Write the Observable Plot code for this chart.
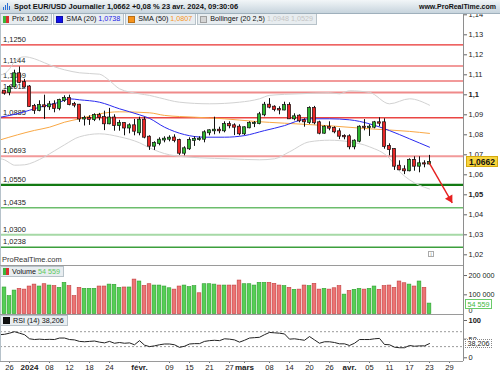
<!DOCTYPE html>
<html><head><meta charset="utf-8">
<script src="https://cdn.jsdelivr.net/npm/d3@7"></script>
<script src="https://cdn.jsdelivr.net/npm/@observablehq/plot@0.6"></script>
<style>
html,body{margin:0;padding:0;background:#fff;}
#wrap{position:relative;width:500px;height:375px;overflow:hidden;font-family:"Liberation Sans",Arial,sans-serif;color:#111;}
.a{position:absolute;}
#hdr{left:0;top:0;width:500px;height:14px;background:linear-gradient(#f2f6f8,#c7d4dd);border-bottom:1px solid #9fb0bc;box-sizing:border-box;}
#title{left:14px;top:2px;font-size:7.5px;font-weight:bold;white-space:nowrap;line-height:9px}
#site{right:4px;top:2px;font-size:7px;font-weight:bold;line-height:9px;white-space:nowrap}
#ico{left:3px;top:3px;width:7px;height:7px}
#ico i{position:absolute;bottom:0;width:1.2px;background:#2b6fd6}
.lgrow{position:absolute;left:0;display:flex;gap:1px}
.lg{height:11px;background:#e8edf0;border:1px solid #b7c2c9;border-top:none;box-sizing:border-box;font-size:7.2px;line-height:10px;white-space:nowrap;padding:0 3px 0 2px;display:flex;align-items:center}
.sw{display:inline-block;width:5px;height:5px;margin-right:3px;border:0.5px solid rgba(0,0,0,0.25)}
.sw2{display:inline-block;width:6px;height:7px;margin-right:3px;background:linear-gradient(90deg,#3bb53b 50%,#d93030 50%)}
.tag{position:absolute;white-space:nowrap;box-sizing:border-box;text-align:center}
.hl{position:absolute;left:0;width:463px;height:1px;background:#9a9a9a}
</style></head>
<body>
<div id="wrap">
  <div id="price" class="a" style="left:0;top:14px"></div>
  <div id="vol" class="a" style="left:0;top:265px"></div>
  <div id="rsi" class="a" style="left:0;top:314px"></div>
  <div class="a" style="left:0;top:13px;width:1px;height:348px;background:#b6c2ca"></div>
  <div class="a" style="left:463px;top:13px;width:1px;height:348px;background:#8e8e8e"></div>
  <div class="hl" style="top:265px"></div>
  <div class="hl" style="top:314px"></div>
  <div class="hl" style="top:361px"></div>
  <div id="hdr" class="a">
    <div id="ico" class="a"><i style="left:0;height:3px"></i><i style="left:2px;height:5px"></i><i style="left:4px;height:7px"></i><i style="left:6px;height:4px"></i></div>
    <div id="title" class="a">Spot EUR/USD Journalier 1,0662 +0,08 % 23 avr. 2024, 09:30:06</div>
    <div id="site" class="a">www.ProRealTime.com</div>
  </div>
  <div class="lgrow" style="top:14px">
    <div class="lg"><span class="sw2"></span>Prix 1,0662</div>
    <div class="lg"><span class="sw" style="background:#1010e8"></span>SMA (20)&nbsp;<span style="color:#1a1ae6">1,0738</span></div>
    <div class="lg"><span class="sw" style="background:#f7941d"></span>SMA (50)&nbsp;<span style="color:#f7941d">1,0807</span></div>
    <div class="lg"><span class="sw" style="background:#d4d4d4"></span>Bollinger (20 2,5)&nbsp;<span style="color:#c4c4c4">1,0948 1,0529</span></div>
  </div>
  <div class="a" style="left:2px;top:255px;font-size:7.5px;color:#333">ProRealTime.com</div>
  <div class="a" style="left:428px;top:251px;width:6px;height:6px;border:1px solid #aaa;box-sizing:border-box;font-size:5px;line-height:5px;text-align:center;color:#777">i</div>
  <div class="lgrow" style="top:266px">
    <div class="lg" style="height:11px;border-top:1px solid #b7c2c9"><span class="sw2"></span>Volume&nbsp;<span style="color:#5cc85c">54 559</span></div>
  </div>
  <div class="lgrow" style="top:315px">
    <div class="lg" style="height:11px;border-top:1px solid #b7c2c9"><span class="sw" style="background:#111"></span>RSI (14) 38,206</div>
  </div>
</div>
<script>
// ---------- DATA ----------
// daily candles, index 0 = 22 déc. 2023 ... 85 = 23 avr. 2024 (trading days)
const opens = [1.1018,1.1012,1.1040,1.1105,1.1061,1.1039,1.0942,1.0922,1.0945,1.0940,
 1.0950,1.0932,1.0972,1.0982,1.0951,1.0948,1.0879,1.0882,1.0876,1.0896,
 1.0886,1.0855,1.0884,1.0846,1.0856,1.0834,1.0845,1.0810,1.0873,1.0788,
 1.0743,1.0757,1.0774,1.0778,1.0784,1.0771,1.0708,1.0730,1.0772,1.0776,
 1.0778,1.0810,1.0820,1.0823,1.0820,1.0851,1.0845,1.0838,1.0805,1.0835,
 1.0856,1.0856,1.0900,1.0948,1.0938,1.0926,1.0924,1.0946,1.0880,1.0893,
 1.0870,1.0862,1.0932,1.0860,1.0808,1.0838,1.0832,1.0815,1.0792,1.0790,
 1.0740,1.0768,1.0838,1.0836,1.0838,1.0860,1.0860,1.0742,1.0726,1.0643,
 1.0625,1.0620,1.0672,1.0643,1.0655,1.0654];
const highs = [1.1022,1.1045,1.1123,1.1139,1.1077,1.1046,1.0952,1.0970,1.0998,1.0967,
 1.0970,1.0978,1.0995,1.0998,1.0962,1.0952,1.0893,1.0895,1.0905,1.0907,
 1.0918,1.0932,1.0900,1.0872,1.0860,1.0855,1.0877,1.0888,1.0888,1.0795,
 1.0765,1.0785,1.0790,1.0795,1.0800,1.0778,1.0740,1.0785,1.0790,1.0790,
 1.0820,1.0825,1.0888,1.0838,1.0865,1.0865,1.0855,1.0850,1.0840,1.0865,
 1.0866,1.0912,1.0962,1.0981,1.0945,1.0940,1.0963,1.0960,1.0905,1.0900,
 1.0880,1.0940,1.0942,1.0868,1.0845,1.0865,1.0840,1.0830,1.0800,1.0800,
 1.0775,1.0845,1.0876,1.0850,1.0867,1.0885,1.0880,1.0755,1.0730,1.0670,
 1.0645,1.0680,1.0690,1.0690,1.0670,1.0697];
const lows = [1.0998,1.0995,1.1035,1.1055,1.1033,1.0937,1.0902,1.0915,1.0877,1.0922,
 1.0910,1.0920,1.0962,1.0945,1.0935,1.0862,1.0844,1.0847,1.0866,1.0870,
 1.0821,1.0850,1.0818,1.0818,1.0795,1.0805,1.0795,1.0795,1.0780,1.0722,
 1.0722,1.0745,1.0760,1.0765,1.0760,1.0697,1.0695,1.0722,1.0742,1.0768,
 1.0760,1.0795,1.0800,1.0805,1.0810,1.0830,1.0796,1.0795,1.0796,1.0830,
 1.0836,1.0850,1.0890,1.0930,1.0915,1.0900,1.0920,1.0878,1.0870,1.0860,
 1.0838,1.0852,1.0850,1.0800,1.0803,1.0820,1.0805,1.0776,1.0775,1.0725,
 1.0725,1.0760,1.0820,1.0792,1.0830,1.0840,1.0728,1.0695,1.0622,1.0620,
 1.0601,1.0615,1.0618,1.0610,1.0635,1.0650];
const closes = [1.1008,1.1037,1.1105,1.1061,1.1039,1.0942,1.0922,1.0946,1.0940,1.0950,
 1.0932,1.0972,1.0982,1.0951,1.0948,1.0879,1.0882,1.0877,1.0896,1.0886,
 1.0855,1.0884,1.0846,1.0856,1.0834,1.0845,1.0818,1.0873,1.0788,1.0743,
 1.0757,1.0773,1.0778,1.0783,1.0771,1.0708,1.0730,1.0772,1.0776,1.0778,
 1.0810,1.0820,1.0823,1.0820,1.0851,1.0845,1.0838,1.0805,1.0835,1.0856,
 1.0856,1.0900,1.0948,1.0938,1.0926,1.0924,1.0946,1.0880,1.0890,1.0870,
 1.0865,1.0932,1.0860,1.0808,1.0838,1.0833,1.0815,1.0793,1.0790,1.0740,
 1.0768,1.0838,1.0837,1.0838,1.0860,1.0858,1.0742,1.0726,1.0643,1.0625,
 1.0620,1.0672,1.0643,1.0655,1.0654,1.0662];
const volumes = [138,93,122,131,127,143,153,143,155,148,
 145,136,162,145,93,136,131,131,131,143,
 143,153,152,136,138,138,179,169,146,155,
 148,148,143,134,127,143,148,140,145,108,
 155,155,153,148,148,148,148,174,155,155,
 148,162,162,162,157,148,145,136,126,127,
 148,145,157,127,131,127,134,145,101,120,
 126,131,127,131,143,126,145,148,136,169,
 160,153,143,169,136,54.559].map(v => v * 1000);
const volumeUp = [1,1,1,0,0,0,0,1,0,1, 0,1,1,0,0,0,1,1,1,0, 0,1,1,1,0,1,0,1,0,0,
 1,1,1,1,0,0,1,1,1,0, 1,1,1,0,1,0,0,0,1,1, 1,1,1,0,0,0,1,0,1,0,
 0,1,0,0,1,0,0,0,1,0, 1,1,0,1,1,0,0,0,0,0, 0,1,0,1,0,1];
// RSI(14), first value sits at the left edge
const rsiStartIdx = -1;
const rsiValues = [62, 63,66,70,66,62,51,49,50,49,49.5,
 49,53,53,49,48,44,43,44,45,42, 40,44,39,41,39,40,35,46,34,30,
 32,35,37,37,35,28,31,37,38,38, 44,46,47,46,51,50,48,42,47,53,
 54,55,62,68,67,66,64,50,51,49, 47,57,48,39,43,43,41,37.5,37.5,33,
 39,49,49,49,51,52,35.7,35,28.5,27, 27,33,31,32,32,38.206];
// indicator lines (candle index, value)
const sma20Idx = [-0.8,3,7,11,13,15,19,23,27,29,32,36,40,44,48,52,56,59,61,65,69,73,77,81,85];
const sma20Val = [1.0888,1.0908,1.0938,1.0963,1.0980,1.0975,1.0963,1.0930,1.0900,1.0882,1.0838,1.0801,1.0788,1.0788,1.0796,1.0821,1.0846,1.0872,1.0880,1.0880,1.0875,1.0855,1.0821,1.0780,1.0738];
const sma50Idx = [-0.8,6,9,12,15,19,23,29,32,38,44,50,56,65,73,81,85];
const sma50Val = [1.0775,1.0822,1.0838,1.0863,1.0880,1.0905,1.0915,1.0910,1.0897,1.0888,1.0880,1.0867,1.0858,1.0845,1.0830,1.0817,1.0807];
const bbUpIdx = [-0.8,0,1,2,3,4,6,8,10,12,15,19,21,23,27,29,31,35,41,47,51,53,59,65,67,69,73,77,81,85];
const bbUpVal = [1.1100,1.1105,1.1130,1.1165,1.1185,1.1190,1.1180,1.1160,1.1140,1.1125,1.1110,1.1103,1.1071,1.1030,1.1005,1.0997,1.0985,1.0963,1.0955,1.0963,1.0980,1.0997,1.1005,1.1010,1.1005,1.1020,1.1012,1.0955,1.0980,1.0948];
const bbLoIdx = [-0.8,0,1,2,4,6,8,10,12,15,19,23,27,29,33,39,45,51,54,57,61,65,69,73,77,79,81,85];
const bbLoVal = [1.0680,1.0675,1.0660,1.0648,1.0650,1.0665,1.0690,1.0720,1.0750,1.0790,1.0805,1.0790,1.0760,1.0735,1.0700,1.0685,1.0680,1.0675,1.0680,1.0715,1.0765,1.0773,1.0765,1.0740,1.0682,1.0617,1.0575,1.0529];
// support / resistance levels
const levels = [1.1250,1.1144,1.1069,1.1012,1.0885,1.0693,1.0550,1.0435,1.0300,1.0238];
const levelLabels = ["1,1250","1,1144","1,1069","1,1012","1,0885","1,0693","1,0550","1,0435","1,0300","1,0238"];
// drawn trend arrow (candle index, price)
const arrowFrom = {i: 84.86, p: 1.0663};
const arrowTo = {i: 89.54, p: 1.0460};
// axis ticks
const priceTicks = [1.14,1.13,1.12,1.11,1.10,1.09,1.08,1.07,1.06,1.05,1.04,1.03,1.02];
const priceBoldTicks = [1.10,1.05];
const volTicks = [200000,100000];
const rsiTicks = [50,0];
const rsiBoldTicks = [100];
const rsiGuides = [70,30];
const dateTickIdx = [1,5,9,13,17,21,27,33,37,41,45,48,53,57,61,65,69,73,77,81,85,89];
const dateTickLabels = ["26","2024","08","12","18","24","févr.","09","15","21","27","mars","08","14","20","26","avr.","05","11","17","23","29"];
const dateBoldLabels = ["2024","févr.","mars","avr."];

// ---------- STYLES ----------
const levelStyles = [
  {stroke:"#e8312f", w:1.3}, {stroke:"#f29a9a", w:2}, {stroke:"#f29a9a", w:2}, {stroke:"#ef8a8a", w:2},
  {stroke:"#ea4643", w:1.5}, {stroke:"#f29a9a", w:2}, {stroke:"#137a13", w:2.2}, {stroke:"#6cbd6c", w:1.5},
  {stroke:"#a6d9a6", w:2}, {stroke:"#3c9f3c", w:1.5}
];
const UP = "#2db52d", DOWN = "#e82727";
const font = '"Liberation Sans", Arial, sans-serif';
const xDomain = [-0.8, 91.8];
const baseStyle = {fontFamily: font, fontSize: "7.5px", color: "#222", background: "transparent", overflow: "visible"};

const candles = opens.map((o, i) => ({i, o, h: highs[i], l: lows[i], c: closes[i]}));
const pts = (idx, val) => idx.map((x, k) => ({x, v: val[k]}));
const fmtPrice = d => String(+d.toFixed(2)).replace(".", ",");
const fmtSpace = d => d3.format(",")(Math.round(d)).replace(/,/g, " ");

// ---------- PRICE PANEL ----------
const priceChart = Plot.plot({
  width: 500, height: 251,
  marginTop: 0, marginBottom: 0, marginLeft: 0, marginRight: 37,
  x: {domain: xDomain, axis: null, label: null},
  y: {domain: [1.01465, 1.14015], axis: null, label: null},
  color: {type: "identity"},
  style: baseStyle,
  marks: [
    ...levels.map((lv, k) => Plot.ruleY([lv], {stroke: levelStyles[k].stroke, strokeWidth: levelStyles[k].w})),
    Plot.text(levels, {x: xDomain[0], y: d => d, text: (d, k) => levelLabels[k], dx: 2.5, dy: -5.5, textAnchor: "start", fill: "#222", fontSize: 7.5}),
    Plot.line(pts(bbUpIdx, bbUpVal), {x: "x", y: "v", stroke: "#d2d2d2", strokeWidth: 1, curve: "monotone-x"}),
    Plot.line(pts(bbLoIdx, bbLoVal), {x: "x", y: "v", stroke: "#d2d2d2", strokeWidth: 1, curve: "monotone-x"}),
    Plot.line(pts(sma50Idx, sma50Val), {x: "x", y: "v", stroke: "#f9a845", strokeWidth: 1, curve: "monotone-x"}),
    Plot.line(pts(sma20Idx, sma20Val), {x: "x", y: "v", stroke: "#2a2af0", strokeWidth: 1, curve: "monotone-x"}),
    Plot.ruleX(candles, {x: "i", y1: "l", y2: "h", stroke: "#111", strokeWidth: 1}),
    Plot.rect(candles, {x1: d => d.i - 0.32, x2: d => d.i + 0.32, y1: "o", y2: "c",
      fill: d => d.c >= d.o ? UP : DOWN, stroke: "#111", strokeWidth: 0.7, insetTop: -0.5, insetBottom: -0.5}),
    Plot.link([0], {x1: () => arrowFrom.i, y1: () => arrowFrom.p, x2: () => arrowTo.i, y2: () => arrowTo.p, stroke: "#e62020", strokeWidth: 1.4}),
    Plot.dot([0], {x: () => arrowTo.i, y: () => arrowTo.p, dx: -2.3, dy: -4, symbol: "triangle", r: 3.2, rotate: 150, fill: "#e62020", stroke: "none"}),
    Plot.axisY({anchor: "right", label: null, ticks: priceTicks.filter(t => !priceBoldTicks.includes(t)), tickFormat: fmtPrice, tickSize: 3, tickPadding: 2, fontSize: 7.5, stroke: "#666"}),
    Plot.axisY({anchor: "right", label: null, ticks: priceBoldTicks, tickFormat: fmtPrice, tickSize: 3, tickPadding: 2, fontSize: 7.5, fontWeight: "bold", stroke: "#666"})
  ]
});
document.getElementById("price").appendChild(priceChart);

// ---------- VOLUME PANEL ----------
const volData = volumes.map((v, i) => ({i, v, up: volumeUp[i]}));
const volChart = Plot.plot({
  width: 500, height: 49,
  marginTop: 0, marginBottom: 0, marginLeft: 0, marginRight: 37,
  x: {domain: xDomain, axis: null, label: null},
  y: {domain: [-2000, 252000], axis: null, label: null},
  color: {type: "identity"},
  style: baseStyle,
  marks: [
    Plot.rect(volData, {x1: d => d.i - 0.37, x2: d => d.i + 0.37, y1: 0, y2: "v",
      fill: d => d.up ? "#55cf55" : "#ec7474", stroke: d => d.up ? "#2e9e2e" : "#c23c3c", strokeWidth: 0.6}),
    Plot.axisY({anchor: "right", label: null, ticks: volTicks, tickFormat: fmtSpace, tickSize: 3, tickPadding: 2, fontSize: 7.2, stroke: "#666"}),
    Plot.axisY({anchor: "right", label: null, ticks: [0], tickFormat: fmtSpace, tickSize: 0, tickPadding: 5, dy: -3, fontSize: 7.2})
  ]
});
document.getElementById("vol").appendChild(volChart);

// ---------- RSI PANEL ----------
const rsiData = rsiValues.map((v, k) => ({x: rsiStartIdx + k, v}));
const rsiChart = Plot.plot({
  width: 500, height: 61,
  marginTop: 0, marginBottom: 14, marginLeft: 0, marginRight: 37,
  x: {domain: xDomain, label: null},
  y: {domain: [-9.9, 116.1], axis: null, label: null},
  style: baseStyle,
  marks: [
    Plot.ruleY(rsiGuides, {stroke: "#9a9a9a", strokeDasharray: "2,2", strokeWidth: 1}),
    Plot.line(rsiData, {x: "x", y: "v", stroke: "#222", strokeWidth: 1}),
    Plot.axisY({anchor: "right", label: null, ticks: rsiTicks, tickSize: 3, tickPadding: 2, fontSize: 7.5, stroke: "#666"}),
    Plot.axisY({anchor: "right", label: null, ticks: rsiBoldTicks, tickSize: 3, tickPadding: 2, fontSize: 7.5, fontWeight: "bold", stroke: "#666"}),
    Plot.axisX({anchor: "bottom", label: null, ticks: dateTickIdx.filter((t, k) => !dateBoldLabels.includes(dateTickLabels[k])),
      tickFormat: t => dateTickLabels[dateTickIdx.indexOf(t)], tickSize: 2, tickPadding: 1, fontSize: 7.5, stroke: "#777"}),
    Plot.axisX({anchor: "bottom", label: null, ticks: dateTickIdx.filter((t, k) => dateBoldLabels.includes(dateTickLabels[k])),
      tickFormat: t => dateTickLabels[dateTickIdx.indexOf(t)], tickSize: 2, tickPadding: 1, fontSize: 8, fontWeight: "bold", stroke: "#777"})
  ]
});
document.getElementById("rsi").appendChild(rsiChart);

// ---------- LAST-VALUE TAGS (positioned with the charts' own scales) ----------
const wrap = document.getElementById("wrap");
function addTag(top, text, css) {
  const t = document.createElement("div");
  t.className = "tag";
  t.textContent = text;
  t.style.cssText += css + `top:${top}px;`;
  wrap.appendChild(t);
}
const last = closes.length - 1;
const lastRsi = rsiValues[rsiValues.length - 1];
addTag(14 + priceChart.scale("y").apply(closes[last]) - 5.5, closes[last].toFixed(4).replace(".", ","),
  "left:466px;width:32px;height:11px;line-height:10px;font-size:8.5px;font-weight:bold;background:#f7d43e;border:1px solid #d4a90e;");
addTag(265 + volChart.scale("y").apply(volumes[last]) - 4.5, fmtSpace(volumes[last]),
  "left:465px;width:27px;height:10px;line-height:9px;font-size:7.2px;color:#3cb83c;background:#fff;border:1px solid #6acb6a;");
addTag(314 + rsiChart.scale("y").apply(lastRsi) - 4, lastRsi.toFixed(3).replace(".", ","),
  "left:465px;width:27px;height:9px;line-height:8px;font-size:7.2px;color:#222;background:#fff;border:1px dotted #888;");
</script>
</body></html>
